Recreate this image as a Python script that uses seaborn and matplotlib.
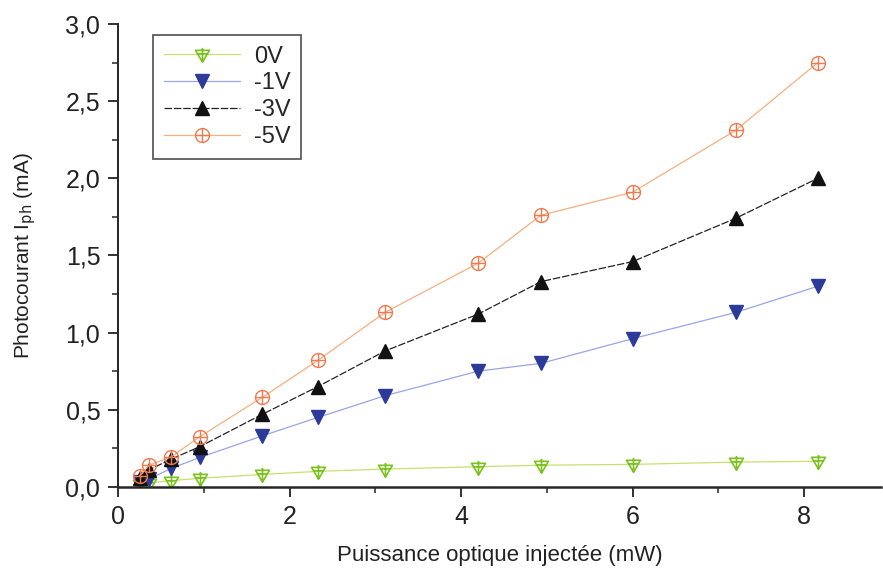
import numpy as np
import pandas as pd
import seaborn as sns
import matplotlib.pyplot as plt
from matplotlib.path import Path
from matplotlib.ticker import MultipleLocator, FuncFormatter

# Data
puissance = [0.25, 0.36, 0.62, 0.95, 1.68, 2.33, 3.11, 4.20, 4.93, 6.00, 7.20, 8.16]
i_0v = [0.02, 0.025, 0.04, 0.055, 0.08, 0.10, 0.115, 0.13, 0.14, 0.145, 0.16, 0.165]
i_1v = [0.03, 0.05, 0.12, 0.19, 0.33, 0.45, 0.59, 0.75, 0.80, 0.96, 1.13, 1.30]
i_3v = [0.06, 0.11, 0.18, 0.26, 0.47, 0.65, 0.88, 1.12, 1.33, 1.46, 1.74, 2.00]
i_5v = [0.07, 0.14, 0.195, 0.325, 0.58, 0.82, 1.13, 1.45, 1.76, 1.91, 2.31, 2.75]
labels = ['0V', '-1V', '-3V', '-5V']

df = pd.DataFrame({
    'P': puissance * 4,
    'I': i_0v + i_1v + i_3v + i_5v,
    'tension': np.repeat(labels, len(puissance)),
})

# custom markers: open triangle with a cross, circle with a cross
tri_cross = Path.make_compound_path(
    Path([(-1, 0.6), (1, 0.6), (0, -1.1), (-1, 0.6)], closed=True),
    Path([(-0.75, 0.1), (0.75, 0.1)]),
    Path([(0, 0.95), (0, -1.1)]),
)
circ_cross = Path.make_compound_path(
    Path.unit_circle(),
    Path([(-1, 0), (1, 0)]),
    Path([(0, -1), (0, 1)]),
)

styles = {
    '0V':  dict(color='#c8e070', marker=tri_cross, mec='#7cc21e', mfc='none', ms=11, mew=1.2, ls='-'),
    '-1V': dict(color='#9aa4e8', marker='v', mec='#2c3a9a', mfc='#2c3a9a', ms=10, mew=1, ls='-'),
    '-3V': dict(color='#222222', marker='^', mec='#111111', mfc='#111111', ms=10, mew=1, ls=(0, (6, 1.5))),
    '-5V': dict(color='#f4b080', marker=circ_cross, mec='#f07a50', mfc='none', ms=10, mew=1.0, ls='-'),
}

sns.set_style('ticks')
plt.rcParams['font.family'] = ['Liberation Sans', 'DejaVu Sans']

fig, ax = plt.subplots(figsize=(8.83, 5.72), dpi=100)
fig.subplots_adjust(left=0.134, right=0.998, bottom=0.149, top=0.958)

for lab in labels:
    st = styles[lab]
    sns.lineplot(data=df[df['tension'] == lab], x='P', y='I', ax=ax, label=lab,
                 color=st['color'], marker=st['marker'], markeredgecolor=st['mec'],
                 markerfacecolor=st['mfc'], markersize=st['ms'], markeredgewidth=st['mew'],
                 linestyle=st['ls'], linewidth=0.9)

ax.set_xlim(0, 8.9)
ax.set_ylim(0, 3.0)
ax.xaxis.set_major_locator(MultipleLocator(2))
ax.xaxis.set_minor_locator(MultipleLocator(1))
ax.yaxis.set_major_locator(MultipleLocator(0.5))
ax.yaxis.set_minor_locator(MultipleLocator(0.25))
ax.xaxis.set_major_formatter(FuncFormatter(lambda v, p: f'{v:.0f}'))
ax.yaxis.set_major_formatter(FuncFormatter(lambda v, p: f'{v:.1f}'.replace('.', ',')))
ax.tick_params(axis='both', which='major', length=7, width=1.3, labelsize=18,
               colors='#222222', pad=6)
ax.tick_params(axis='both', which='minor', length=4, width=1.1)

for s in ['top', 'right']:
    ax.spines[s].set_visible(False)
ax.spines['left'].set_linewidth(1.4)
ax.spines['bottom'].set_linewidth(1.8)

ax.set_xlabel('Puissance optique injectée (mW)', fontsize=16, labelpad=12, color='#222222')
ax.set_ylabel('Photocourant I$_{\\rm ph}$ (mA)', fontsize=15, labelpad=20, color='#222222')

leg = ax.legend(loc='upper left', bbox_to_anchor=(0.046, 0.976), borderaxespad=0,
                fontsize=17, frameon=True, fancybox=False, edgecolor='#222222',
                handlelength=3.2, handletextpad=0.6, borderpad=0.45, labelspacing=0.2)
leg.get_frame().set_linewidth(1.2)

fig.savefig('out.png', dpi=100)
